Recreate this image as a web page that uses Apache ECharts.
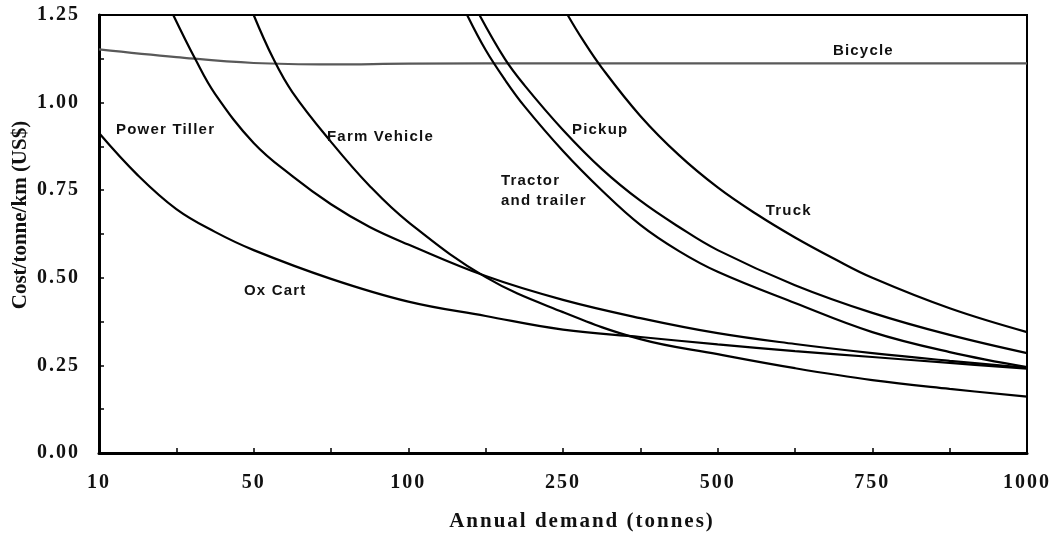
<!DOCTYPE html>
<html>
<head>
<meta charset="utf-8">
<title>Cost per tonne-km by annual demand</title>
<script src="https://cdn.jsdelivr.net/npm/echarts@6/dist/echarts.min.js"></script>
<style>
html, body { margin: 0; padding: 0; background: #fff; }
#chart { width: 1054px; height: 540px; }
</style>
</head>
<body>
<div id="chart"></div>
<script>
//x轴刻度 (年需求量, 图上等距排列)
var demandTicks = ['10', '50', '100', '250', '500', '750', '1000'];
//各运输方式曲线 [刻度位置, 成本]
var bicycle = [[0, 1.152], [0.5, 1.13], [1, 1.113], [1.5, 1.109], [2, 1.111], [3, 1.112], [4, 1.112], [5, 1.112], [6, 1.112]];
var oxCart = [[0, 0.913], [0.25, 0.793], [0.5, 0.696], [0.75, 0.631], [1, 0.579], [1.5, 0.497], [2, 0.432], [2.5, 0.391], [3, 0.352], [3.5, 0.331], [4, 0.31], [4.5, 0.291], [5, 0.274], [5.5, 0.257], [6, 0.241]];
var powerTiller = [[0.48, 1.25], [0.625, 1.122], [0.75, 1.025], [1, 0.885], [1.25, 0.79], [1.5, 0.71], [1.75, 0.645], [2, 0.595], [2.5, 0.505], [3, 0.437], [3.5, 0.385], [4, 0.342], [4.5, 0.311], [5, 0.285], [5.5, 0.263], [6, 0.243]];
var farmVehicle = [[1, 1.25], [1.125, 1.127], [1.25, 1.03], [1.5, 0.888], [1.75, 0.762], [2, 0.659], [2.5, 0.502], [3, 0.402], [3.5, 0.325], [4, 0.282], [4.5, 0.242], [5, 0.208], [5.5, 0.183], [6, 0.161]];
var tractor = [[2.38, 1.25], [2.5, 1.15], [2.625, 1.065], [2.75, 0.99], [3, 0.862], [3.25, 0.75], [3.5, 0.651], [3.75, 0.576], [4, 0.517], [4.5, 0.428], [5, 0.345], [5.5, 0.288], [6, 0.245]];
var pickup = [[2.46, 1.25], [2.625, 1.124], [2.75, 1.05], [3, 0.922], [3.25, 0.811], [3.5, 0.72], [3.75, 0.645], [4, 0.579], [4.5, 0.479], [5, 0.4], [5.5, 0.337], [6, 0.285]];
var truck = [[3.03, 1.25], [3.125, 1.181], [3.25, 1.1], [3.5, 0.962], [3.75, 0.85], [4, 0.758], [4.25, 0.682], [4.5, 0.615], [4.75, 0.555], [5, 0.5], [5.5, 0.413], [6, 0.345]];

//x轴标题和曲线标签有字距, 用canvas的letterSpacing补上
var rawFillText = CanvasRenderingContext2D.prototype.fillText;
CanvasRenderingContext2D.prototype.fillText = function (text) {
    var old = this.letterSpacing;
    if (text === 'Annual demand (tonnes)') {
        this.letterSpacing = '2px';
    } else if (this.font.indexOf('Liberation Sans') > -1) {
        this.letterSpacing = '1.2px';
    }
    rawFillText.apply(this, arguments);
    this.letterSpacing = old;
};

var serif = '"Liberation Serif", "Times New Roman", serif';

//生成一条曲线, 标签放在曲线旁边
function makeSeries(name, data, color, labelText, labelPos) {
    return {
        name: name,
        type: 'line',
        data: data,
        smooth: 0.4,
        symbol: 'none',
        clip: true,
        lineStyle: { color: color, width: 2.2 },
        markPoint: {
            symbol: 'circle',
            symbolSize: 0,
            silent: true,
            label: {
                show: true,
                position: 'right',
                distance: 0,
                color: '#111',
                fontFamily: '"Liberation Sans", Arial, sans-serif',
                fontWeight: 'bold',
                fontSize: 15,
                lineHeight: 20,
                formatter: labelText
            },
            data: [{ coord: labelPos }]
        }
    };
}

var chart = echarts.init(document.getElementById('chart'));
var option = {
    animation: false,
    backgroundColor: '#fff',
    grid: {
        left: 99,
        right: 27,
        top: 15,
        bottom: 87,
        show: true,
        borderColor: '#000',
        borderWidth: 2,
        outerBoundsMode: 'none'
    },
    xAxis: {
        type: 'value',
        min: 0,
        max: 6,
        interval: 0.5,
        name: 'Annual demand (tonnes)',
        nameLocation: 'middle',
        nameGap: 58,
        nameTextStyle: {
            fontFamily: serif, fontWeight: 'bold', fontSize: 21, color: '#111',
            padding: [0, 0, 0, 38]
        },
        axisLine: { lineStyle: { color: '#000', width: 3 } },
        axisTick: { inside: true, length: 5, lineStyle: { color: '#000', width: 1.5 } },
        axisLabel: {
            margin: 20,
            fontFamily: serif, fontWeight: 'bold', fontSize: 20, color: '#111',
            formatter: function (v) {
                return v % 1 === 0 ? demandTicks[v] : '';
            }
        },
        splitLine: { show: false }
    },
    yAxis: {
        type: 'value',
        min: 0,
        max: 1.25,
        interval: 0.125,
        name: 'Cost/tonne/km (US$)',
        nameLocation: 'middle',
        nameRotate: 90,
        nameGap: 68,
        nameTextStyle: {
            fontFamily: serif, fontWeight: 'bold', fontSize: 21, color: '#111',
            padding: [0, 0, 0, 38]
        },
        axisLine: { show: true, lineStyle: { color: '#000', width: 3 } },
        axisTick: { show: true, inside: true, length: 5, lineStyle: { color: '#000', width: 1.5 } },
        axisLabel: {
            margin: 19,
            fontFamily: serif, fontWeight: 'bold', fontSize: 20, color: '#111',
            formatter: function (v) {
                return Math.abs(v * 4 - Math.round(v * 4)) < 1e-6 ? v.toFixed(2) : '';
            }
        },
        splitLine: { show: false }
    },
    series: [
        makeSeries('Bicycle', bicycle, '#595959', 'Bicycle', [4.745, 1.147]),
        makeSeries('Ox Cart', oxCart, '#000', 'Ox Cart', [0.937, 0.462]),
        makeSeries('Power Tiller', powerTiller, '#000', 'Power Tiller', [0.11, 0.922]),
        makeSeries('Farm Vehicle', farmVehicle, '#000', 'Farm Vehicle', [1.474, 0.902]),
        makeSeries('Tractor and trailer', tractor, '#000', 'Tractor\nand trailer', [2.599, 0.748]),
        makeSeries('Pickup', pickup, '#000', 'Pickup', [3.058, 0.922]),
        makeSeries('Truck', truck, '#000', 'Truck', [4.311, 0.691])
    ]
};
chart.setOption(option);
</script>
</body>
</html>
